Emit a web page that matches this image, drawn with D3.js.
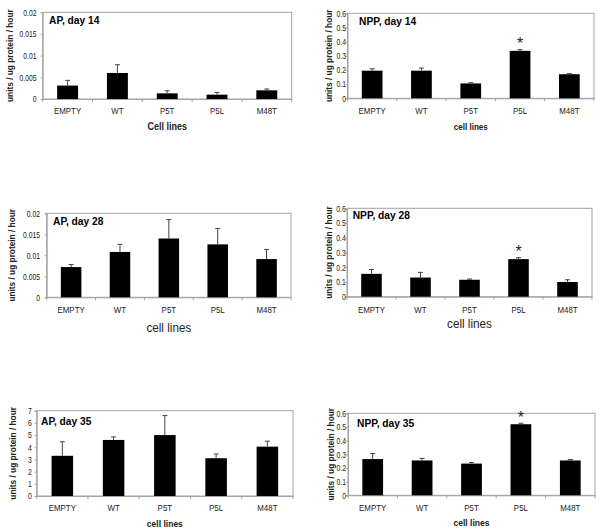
<!DOCTYPE html>
<html><head><meta charset="utf-8">
<script src="https://cdn.jsdelivr.net/npm/d3@7"></script>
<style>body{margin:0;background:#fff}svg{display:block}text{font-family:"Liberation Sans",Arial,sans-serif}</style>
</head><body><svg id="c" width="600" height="532"></svg>
<script>
// ---- data ----
const categories = ["EMPTY", "WT", "P5T", "P5L", "M48T"];
const ap14Mean = [0.0031, 0.006, 0.0013, 0.001, 0.002];
const ap14Err  = [0.0012, 0.0019, 0.0006, 0.0005, 0.0003];
const npp14Mean = [0.195, 0.195, 0.105, 0.335, 0.17];
const npp14Err  = [0.013, 0.018, 0.005, 0.009, 0.004];
const ap28Mean = [0.0072, 0.0108, 0.014, 0.0126, 0.0091];
const ap28Err  = [0.0006, 0.0018, 0.0045, 0.0038, 0.0023];
const npp28Mean = [0.155, 0.13, 0.115, 0.255, 0.1];
const npp28Err  = [0.03, 0.035, 0.005, 0.01, 0.015];
const ap35Mean = [3.3, 4.6, 5.0, 3.1, 4.05];
const ap35Err  = [1.15, 0.25, 1.6, 0.35, 0.45];
const npp35Mean = [0.265, 0.255, 0.232, 0.52, 0.255];
const npp35Err  = [0.04, 0.015, 0.008, 0.007, 0.007];
const apTicksSmall = [0, 0.005, 0.01, 0.015, 0.02];
const apTickLabelsSmall = ["0", "0.005", "0.01", "0.015", "0.02"];
const nppTicks = [0, 0.1, 0.2, 0.3, 0.4, 0.5, 0.6];
const nppTickLabels = ["0", "0.1", "0.2", "0.3", "0.4", "0.5", "0.6"];
const ap35Ticks = [0, 1, 2, 3, 4, 5, 6, 7];
const ap35TickLabels = ["0", "1", "2", "3", "4", "5", "6", "7"];
const titles = ["AP, day 14", "NPP, day 14", "AP, day 28", "NPP, day 28", "AP, day 35", "NPP, day 35"];
const xTitles = ["Cell lines", "cell lines", "cell lines", "cell lines", "cell lines", "cell lines"];
const yTitle = "units / ug protein / hour";
const significant = [null, "P5L", null, "P5L", null, "P5L"];

// ---- layout ----
const panels = [
  {mean: ap14Mean, err: ap14Err, ticks: apTicksSmall, labels: apTickLabelsSmall, labX: 36.5,
   x0: 42.7, x1: 291.7, y0: 12.3, y1: 99, tx: 49, ty: 24, lblY: 114, xtY: 130, xtBold: true, xtSize: 10, ytB: 12.5},
  {mean: npp14Mean, err: npp14Err, ticks: nppTicks, labels: nppTickLabels, labX: 346,
   x0: 347.5, x1: 594, y0: 13.3, y1: 98.3, tx: 359, ty: 25, lblY: 114, xtY: 130, xtBold: true, xtSize: 9, ytB: 331.5},
  {mean: ap28Mean, err: ap28Err, ticks: apTicksSmall, labels: apTickLabelsSmall, labX: 40,
   x0: 46.7, x1: 291, y0: 213.3, y1: 297.3, tx: 53, ty: 225, lblY: 312.5, xtY: 332, xtBold: false, xtSize: 13, ytB: 14.5},
  {mean: npp28Mean, err: npp28Err, ticks: nppTicks, labels: nppTickLabels, labX: 345.7,
   x0: 347, x1: 592, y0: 208.3, y1: 296.7, tx: 352.7, ty: 218.5, lblY: 312.5, xtY: 328, xtBold: false, xtSize: 13, ytB: 331.5},
  {mean: ap35Mean, err: ap35Err, ticks: ap35Ticks, labels: ap35TickLabels, labX: 31.7,
   x0: 36.7, x1: 293, y0: 410.7, y1: 496, tx: 41, ty: 424.5, lblY: 511, xtY: 527, xtBold: true, xtSize: 9.5, ytB: 15.5},
  {mean: npp35Mean, err: npp35Err, ticks: nppTicks, labels: nppTickLabels, labX: 346,
   x0: 348, x1: 595, y0: 413.3, y1: 495.3, tx: 357, ty: 427, lblY: 511, xtY: 525.5, xtBold: true, xtSize: 9.5, ytB: 333.5}
];

const svg = d3.select("#c");
const gray = "#a3a3a3";
const LSX = 0.78; // horizontal squeeze of tick labels

panels.forEach((p, i) => {
  const g = svg.append("g");
  const x = d3.scaleBand().domain(categories).range([p.x0, p.x1]).paddingInner(0.58).paddingOuter(0.29);
  const y = d3.scaleLinear().domain([p.ticks[0], p.ticks[p.ticks.length - 1]]).range([p.y1, p.y0]);

  // plot area border
  g.append("rect").attr("x", p.x0).attr("y", p.y0).attr("width", p.x1 - p.x0).attr("height", p.y1 - p.y0)
    .attr("fill", "none").attr("stroke", gray).attr("stroke-width", 1);

  // y axis
  const pad = (p.x0 - p.labX) / LSX - 2;
  const yAxis = d3.axisLeft(y).tickValues(p.ticks).tickFormat((d, k) => p.labels[k]).tickSize(2).tickPadding(pad);
  const ya = g.append("g").attr("transform", `translate(${p.x0},0)`).call(yAxis);
  ya.select(".domain").attr("stroke", gray);
  ya.selectAll(".tick line").attr("stroke", gray);
  ya.selectAll(".tick text").attr("font-size", 8.7).attr("fill", "#222")
    .attr("font-family", "Liberation Sans, Arial, sans-serif").attr("transform", `scale(${LSX},1)`);

  // x axis
  const xa = g.append("g").attr("transform", `translate(0,${p.y1})`)
    .call(d3.axisBottom(x).tickSize(0).tickPadding(0).tickFormat(() => ""));
  xa.select(".domain").attr("stroke", gray);
  const step = x.step();
  d3.range(categories.length + 1).forEach(k => {
    const xx = p.x0 + k * step;
    xa.append("line").attr("x1", xx).attr("x2", xx).attr("y1", 0).attr("y2", 3).attr("stroke", gray);
  });
  g.selectAll(".xl").data(categories).enter().append("g")
    .attr("transform", d => `translate(${x(d) + x.bandwidth() / 2},${p.lblY})`)
    .append("text").attr("text-anchor", "middle").attr("font-size", 9.3).attr("fill", "#222")
    .attr("transform", "scale(0.85,1)").text(d => d);

  // bars
  const data = categories.map((c, k) => ({c, m: p.mean[k], e: p.err[k]}));
  g.selectAll(".bar").data(data).enter().append("rect")
    .attr("x", d => x(d.c)).attr("width", x.bandwidth())
    .attr("y", d => y(d.m)).attr("height", d => y(0) - y(d.m)).attr("fill", "#000");

  // error bars (upper)
  const eb = g.selectAll(".eb").data(data).enter().append("g");
  eb.append("line").attr("x1", d => x(d.c) + x.bandwidth() / 2).attr("x2", d => x(d.c) + x.bandwidth() / 2)
    .attr("y1", d => y(d.m)).attr("y2", d => y(d.m + d.e)).attr("stroke", "#444").attr("stroke-width", 1);
  eb.append("line").attr("x1", d => x(d.c) + x.bandwidth() / 2 - 2.5).attr("x2", d => x(d.c) + x.bandwidth() / 2 + 2.5)
    .attr("y1", d => y(d.m + d.e)).attr("y2", d => y(d.m + d.e)).attr("stroke", "#444").attr("stroke-width", 1);

  // significance asterisk
  if (significant[i]) {
    const k = categories.indexOf(significant[i]);
    g.append("text").attr("x", x(significant[i]) + x.bandwidth() / 2)
      .attr("y", y(p.mean[k] + p.err[k]) - 0.5).attr("text-anchor", "middle")
      .attr("font-size", 16).attr("font-weight", "normal").attr("fill", "#222").text("*");
  }

  // title
  g.append("g").attr("transform", `translate(${p.tx},${p.ty})`)
    .append("text").attr("font-size", 11).attr("font-weight", "bold")
    .attr("transform", "scale(0.93,1)").attr("fill", "#000").text(titles[i]);

  // x title
  g.append("g").attr("transform", `translate(${(p.x0 + p.x1) / 2},${p.xtY})`)
    .append("text").attr("text-anchor", "middle").attr("transform", "scale(0.9,1)")
    .attr("font-size", p.xtSize).attr("font-weight", p.xtBold ? "bold" : "normal").attr("fill", "#222").text(xTitles[i]);

  // y title
  g.append("text").attr("transform", `translate(${p.ytB},${(p.y0 + p.y1) / 2}) rotate(-90)`)
    .attr("text-anchor", "middle").attr("font-size", 8.3).attr("font-weight", "bold").attr("fill", "#222").text(yTitle);
});
</script></body></html>
